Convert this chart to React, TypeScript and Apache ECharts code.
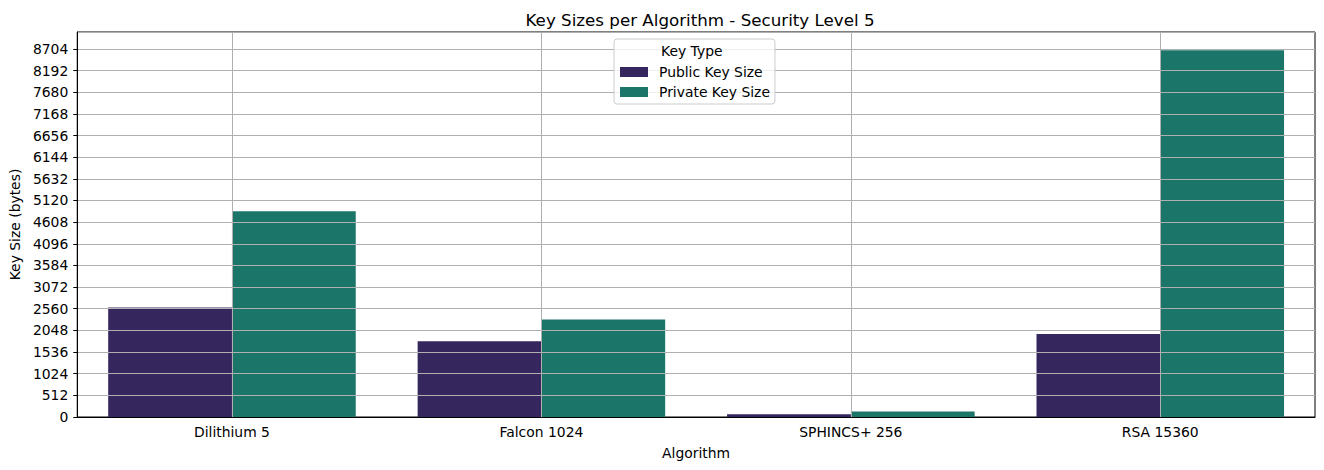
import React, { useEffect, useRef } from "react";
import * as echarts from "echarts";

const categories = ["Dilithium 5", "Falcon 1024", "SPHINCS+ 256", "RSA 15360"];
const publicKeySizes = [2592, 1793, 64, 1960];
const privateKeySizes = [4864, 2305, 128, 8670];
const seriesNames = ["Public Key Size", "Private Key Size"];
const yTickStep = 512;

const FONT = "DejaVu Sans";
const FS = 13.9;

export default function App() {
  const ref = useRef<HTMLDivElement>(null);
  useEffect(() => {
    if (!ref.current) return;
    const chart = echarts.init(ref.current, undefined, { renderer: "svg" });
    const maxVal = Math.max(...publicKeySizes, ...privateKeySizes) * 1.05;
    chart.setOption({
      animation: false,
      textStyle: { fontFamily: FONT },
      title: {
        text: "Key Sizes per Algorithm - Security Level 5",
        left: 695,
        textAlign: "center",
        top: 6,
        textStyle: { fontFamily: FONT, fontSize: 16.7, fontWeight: "normal", color: "#000" },
      },
      grid: {
        left: 75,
        right: 9,
        top: 32,
        bottom: 53,
        show: true,
        borderColor: "#000",
        borderWidth: 1,
        backgroundColor: "transparent",
      },
      legend: {
        orient: "vertical",
        left: 614,
        top: 39,
        padding: [26, 5, 5, 6],
        itemWidth: 28,
        itemHeight: 10,
        itemGap: 6,
        icon: "rect",
        backgroundColor: "rgba(255,255,255,0.8)",
        borderColor: "#cccccc",
        borderWidth: 1,
        borderRadius: 3,
        textStyle: { fontFamily: FONT, fontSize: FS, color: "#000", padding: [0, 0, 0, 6] },
        data: seriesNames,
      },
      graphic: [
        {
          type: "text",
          left: 695 - 34,
          top: 44,
          z: 100,
          style: { text: "Key Type", fontFamily: FONT, fontSize: FS, fill: "#000" },
        },
      ],
      xAxis: {
        type: "category",
        data: categories,
        z: 3,
        name: "Algorithm",
        nameLocation: "middle",
        nameGap: 29,
        nameTextStyle: { fontFamily: FONT, fontSize: FS, color: "#000" },
        axisLine: { lineStyle: { color: "#000", width: 1 } },
        axisTick: { alignWithLabel: true, length: 4, lineStyle: { color: "#000" } },
        axisLabel: { fontFamily: FONT, fontSize: FS, color: "#000", margin: 8 },
        splitLine: { show: false },
      },
      yAxis: {
        type: "value",
        min: 0,
        max: maxVal,
        interval: yTickStep,
        z: 3,
        name: "Key Size (bytes)",
        nameLocation: "middle",
        nameGap: 52,
        nameTextStyle: { fontFamily: FONT, fontSize: FS, color: "#000" },
        axisLine: { show: true, lineStyle: { color: "#000", width: 1 } },
        axisTick: { show: true, length: 4, lineStyle: { color: "#000" } },
        axisLabel: {
          fontFamily: FONT,
          fontSize: FS,
          color: "#000",
          margin: 9,
          showMaxLabel: false,
          formatter: (v: number) => (v % yTickStep === 0 ? String(v) : ""),
        },
        splitLine: { show: true, lineStyle: { color: "#b0b0b0", width: 1 } },
      },
      series: [
        {
          name: seriesNames[0],
          type: "bar",
          data: publicKeySizes,
          barCategoryGap: "20%",
          barGap: "0%",
          itemStyle: { color: "#36265e" },
        },
        {
          name: seriesNames[1],
          type: "bar",
          data: privateKeySizes,
          barCategoryGap: "20%",
          barGap: "0%",
          itemStyle: { color: "#1b7568" },
        },
        {
          name: "grid-x",
          type: "line",
          data: [],
          silent: true,
          z: 4,
          markLine: {
            silent: true,
            symbol: "none",
            label: { show: false },
            lineStyle: { color: "#b0b0b0", width: 1, type: "solid" },
            z: 4,
            data: categories.map((c) => ({ xAxis: c })),
          },
        },
      ],
    });
    return () => chart.dispose();
  }, []);
  return (
    <div
      ref={ref}
      style={{ position: "fixed", left: 0, top: 0, width: 1324, height: 470, background: "#fff" }}
    />
  );
}
